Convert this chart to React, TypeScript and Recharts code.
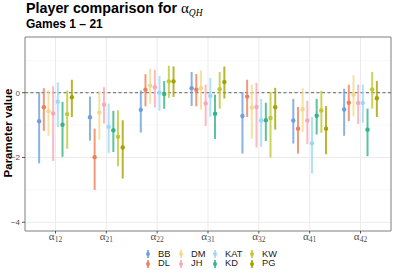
import {
  ScatterChart, Scatter, XAxis, YAxis, CartesianGrid, ErrorBar,
  ReferenceLine, ReferenceArea,
} from 'recharts'

// subscripts of the alpha parameters (x categories)
const params = ['12', '21', '22', '31', '32', '41', '42']
const players = ['BB', 'DL', 'DM', 'JH', 'KAT', 'KD', 'KW', 'PG']
const colors = ['#6f9fdc', '#ee7f5a', '#f2d98a', '#f8a7b8', '#9bd9f7', '#36b386', '#bfc832', '#a5a200']

// per player: [estimate, lower, upper] for each parameter
const BB = [[-0.88, -2.18, 0.02], [-0.76, -1.48, -0.12], [-0.53, -1.23, 0.07], [0.14, -0.41, 0.64], [-0.72, -1.88, 0.02], [-0.86, -1.57, -0.19], [-0.52, -1.33, 0.12]]
const DL = [[-0.45, -1.18, 0.14], [-1.99, -3.0, -1.11], [0.09, -0.42, 0.57], [0.09, -0.42, 0.58], [-0.12, -0.75, 0.4], [-1.11, -1.88, -0.44], [-0.31, -0.88, 0.25]]
const DM = [[-0.57, -1.33, 0.07], [-0.61, -1.45, 0.04], [0.22, -0.34, 0.74], [0.14, -0.52, 0.69], [-0.46, -1.42, 0.25], [-0.51, -1.21, 0.14], [-0.06, -0.73, 0.54]]
const JH = [[-0.64, -2.11, 0.2], [-0.37, -0.95, 0.17], [0.17, -0.46, 0.71], [-0.33, -1.03, 0.25], [-0.44, -1.69, 0.3], [-0.86, -1.59, -0.25], [-0.32, -0.97, 0.25]]
const KAT = [[-0.28, -1.06, 0.32], [-1.05, -1.86, -0.34], [0.0, -0.56, 0.52], [-0.1, -0.74, 0.46], [-0.86, -1.67, -0.19], [-1.56, -2.49, -0.75], [-0.32, -0.93, 0.25]]
const KD = [[-0.99, -1.98, -0.28], [-1.16, -1.83, -0.56], [-0.04, -0.5, 0.36], [-0.65, -1.43, -0.06], [-0.85, -1.49, -0.31], [-0.71, -1.29, -0.19], [-1.14, -1.96, -0.49]]
const KW = [[-0.66, -1.73, 0.07], [-1.36, -2.27, -0.54], [0.35, -0.16, 0.83], [0.11, -0.49, 0.64], [-0.78, -2.0, 0.02], [-0.55, -1.24, 0.06], [0.1, -0.49, 0.64]]
const PG = [[-0.14, -0.75, 0.4], [-1.69, -2.65, -0.85], [0.35, -0.13, 0.81], [0.33, -0.18, 0.81], [-0.45, -1.14, 0.15], [-1.11, -1.9, -0.41], [-0.17, -0.75, 0.36]]

const yTicks = [-4, -2, 0]
const yMinor = [-3, -1, 1]

const series = [BB, DL, DM, JH, KAT, KD, KW, PG]
const DODGE = 0.092

const serif = "'Liberation Serif', 'DejaVu Serif', serif"

const AlphaTick = ({ x, y, payload }: any) => (
  <text x={x} y={y + 4} textAnchor="middle" fill="#4d4d4d" fontFamily={serif} fontSize={11}>
    α<tspan fontSize={7.5} dy={2.5}>{params[payload.value - 1]}</tspan>
  </text>
)

const font = "'Liberation Sans', Arial, sans-serif"

export default function App() {
  const data = series.map((rows, p) => rows.map((r, i) => ({
    x: i + 1 + (p - 3.5) * DODGE,
    y: r[0],
    err: [r[0] - r[1], r[2] - r[0]],
  })))

  return (
    <div style={{ position: 'absolute', left: 0, top: 0, width: 393, height: 273, background: '#fff', fontFamily: font, color: '#000' }}>
      <div style={{ position: 'absolute', left: 26, top: 0, fontSize: 14.3, fontWeight: 'bold', lineHeight: '16px', whiteSpace: 'nowrap' }}>
        Player comparison for{' '}
        <span style={{ fontFamily: serif, fontWeight: 'normal', fontSize: 15 }}>
          α<span style={{ fontSize: 9.5, fontStyle: 'italic', position: 'relative', top: 3 }}>QH</span>
        </span>
      </div>
      <div style={{ position: 'absolute', left: 26, top: 17, fontSize: 12, fontWeight: 'bold', lineHeight: '14px', whiteSpace: 'nowrap' }}>
        Games 1 – 21
      </div>
      <div style={{ position: 'absolute', left: 8, top: 133, fontSize: 11.5, fontWeight: 'bold', whiteSpace: 'nowrap', transform: 'translate(-50%, -50%) rotate(-90deg)' }}>
        Parameter value
      </div>

      <div style={{ position: 'absolute', left: 0, top: 0 }}>
        <ScatterChart width={393} height={273} margin={{ top: 37, right: 2, bottom: 22, left: 0 }}>
          <CartesianGrid horizontalValues={yMinor} vertical={false} stroke="#f4f4f4" strokeWidth={0.6} />
          <CartesianGrid horizontalValues={yTicks} verticalValues={[1, 2, 3, 4, 5, 6, 7]} stroke="#ebebeb" strokeWidth={1} />
          <XAxis
            type="number"
            dataKey="x"
            domain={[0.4, 7.6]}
            ticks={[1, 2, 3, 4, 5, 6, 7]}
            tick={<AlphaTick />}
            axisLine={false}
            tickLine={{ stroke: '#555' }}
            tickSize={2.5}
            height={20}
            allowDataOverflow
          />
          <YAxis
            type="number"
            dataKey="y"
            domain={[-4.27, 1.72]}
            ticks={yTicks}
            tick={{ fontSize: 8, fill: '#4d4d4d', fontFamily: font }}
            tickFormatter={(v: number) => (v < 0 ? `−${-v}` : `${v}`)}
            axisLine={false}
            tickLine={{ stroke: '#555' }}
            tickSize={3}
            width={25}
            allowDataOverflow
          />
          <ReferenceArea x1={0.4} x2={7.6} y1={-4.27} y2={1.72} fill="none" stroke="#7f7f7f" strokeWidth={1} ifOverflow="visible" />
          <ReferenceLine y={0} stroke="#555" strokeDasharray="3 2.5" strokeWidth={0.9} />
          {players.map((name, p) => (
            <Scatter
              key={name}
              name={name}
              data={data[p]}
              isAnimationActive={false}
              shape={(s: any) => <circle cx={s.cx} cy={s.cy} r={2.2} fill={colors[p]} />}
            >
              <ErrorBar dataKey="err" direction="y" width={0} stroke={colors[p]} strokeWidth={2} strokeOpacity={0.8} isAnimationActive={false} />
            </Scatter>
          ))}
        </ScatterChart>
      </div>

      {players.map((name, p) => {
        const col = Math.floor(p / 2)
        const cx = [148, 181, 215, 252][col]
        const cy = p % 2 === 0 ? 254 : 263.5
        return (
          <div key={name}>
            <svg style={{ position: 'absolute', left: cx - 3, top: cy - 5 }} width={6} height={10}>
              <line x1={3} x2={3} y1={1} y2={9} stroke={colors[p]} strokeWidth={2} strokeOpacity={0.8} />
              <circle cx={3} cy={5} r={2} fill={colors[p]} />
            </svg>
            <div style={{ position: 'absolute', left: cx + 10, top: cy - 4.5, fontSize: 9.3, lineHeight: '9px', color: '#1a1a1a' }}>{name}</div>
          </div>
        )
      })}
    </div>
  )
}
